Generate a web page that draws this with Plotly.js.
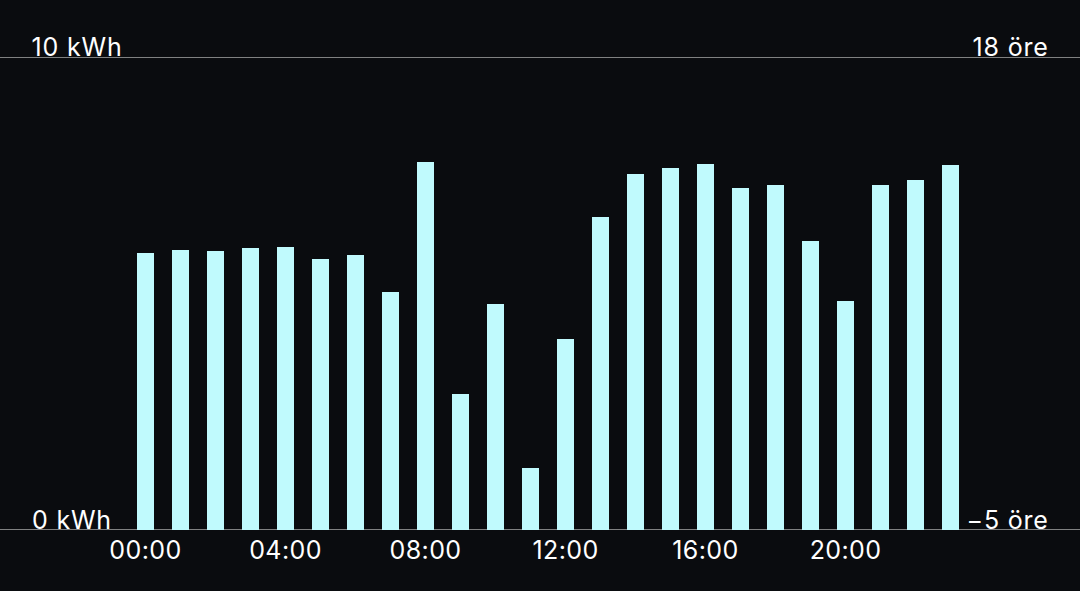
<!DOCTYPE html>
<html>
<head>
<meta charset="utf-8">
<script src="https://cdn.plot.ly/plotly-3.0.1.min.js"></script>
<style>
html,body{margin:0;padding:0;background:#0a0c0f;}
#chart{width:1080px;height:591px;}
#chart .annotation-text{letter-spacing:0.8px;}
#chart .xtick text{letter-spacing:0.4px;}
</style>
</head>
<body>
<div id="chart"></div>
<script>
const hours = [0,1,2,3,4,5,6,7,8,9,10,11,12,13,14,15,16,17,18,19,20,21,22,23];
const energyKWh = [5.86,5.93,5.90,5.96,5.99,5.72,5.82,5.03,7.79,2.88,4.78,1.31,4.04,6.62,7.53,7.66,7.74,7.23,7.29,6.11,4.84,7.29,7.40,7.72];
const tickHours = [0,4,8,12,16,20];
const tickLabels = ["00:00","04:00","08:00","12:00","16:00","20:00"];
const leftAxisLabels = ["0 kWh","10 kWh"];
const leftAxisValues = [0,10];
const rightAxisLabels = ["\u22125 öre","18 öre"];

const font = "Inter, 'Liberation Sans', sans-serif";
const textColor = "#ffffff";

const trace = {
  type: "bar",
  x: hours,
  y: energyKWh,
  width: 0.486,
  marker: {color: "#c0fafd", line: {width: 0}},
  hoverinfo: "skip"
};

const annotations = [];
for (let i = 0; i < leftAxisLabels.length; i++) {
  annotations.push({
    xref: "paper", yref: "y", x: 32/1080, y: leftAxisValues[i],
    xanchor: "left", yanchor: "bottom", yshift: -7,
    text: leftAxisLabels[i], showarrow: false,
    font: {family: font, size: 25, color: textColor}
  });
  annotations.push({
    xref: "paper", yref: "y", x: 1048/1080, y: leftAxisValues[i],
    xanchor: "right", yanchor: "bottom", yshift: -7,
    text: rightAxisLabels[i], showarrow: false,
    font: {family: font, size: 25, color: textColor}
  });
}

const shapes = leftAxisValues.map(v => ({
  type: "line", xref: "paper", yref: "y", x0: 0, x1: 1, y0: v, y1: v,
  line: {color: "#a8a8a8", width: 1.3}, layer: "below"
}));

const layout = {
  width: 1080, height: 591,
  paper_bgcolor: "#0a0c0f", plot_bgcolor: "#0a0c0f",
  margin: {l: 0, r: 0, t: 57, b: 61},
  showlegend: false,
  xaxis: {
    range: [-145.5/35, (1080-145.5)/35],
    tickvals: tickHours, ticktext: tickLabels,
    showgrid: false, zeroline: false, showline: false, ticks: "",
    ticklabelstandoff: 3,
    tickfont: {family: font, size: 25, color: textColor},
    fixedrange: true
  },
  yaxis: {
    range: [0, 10], showgrid: false, zeroline: false, showticklabels: false,
    fixedrange: true
  },
  shapes: shapes,
  annotations: annotations,
  bargap: 0
};

Plotly.newPlot("chart", [trace], layout, {displayModeBar: false, staticPlot: true});
</script>
</body>
</html>
